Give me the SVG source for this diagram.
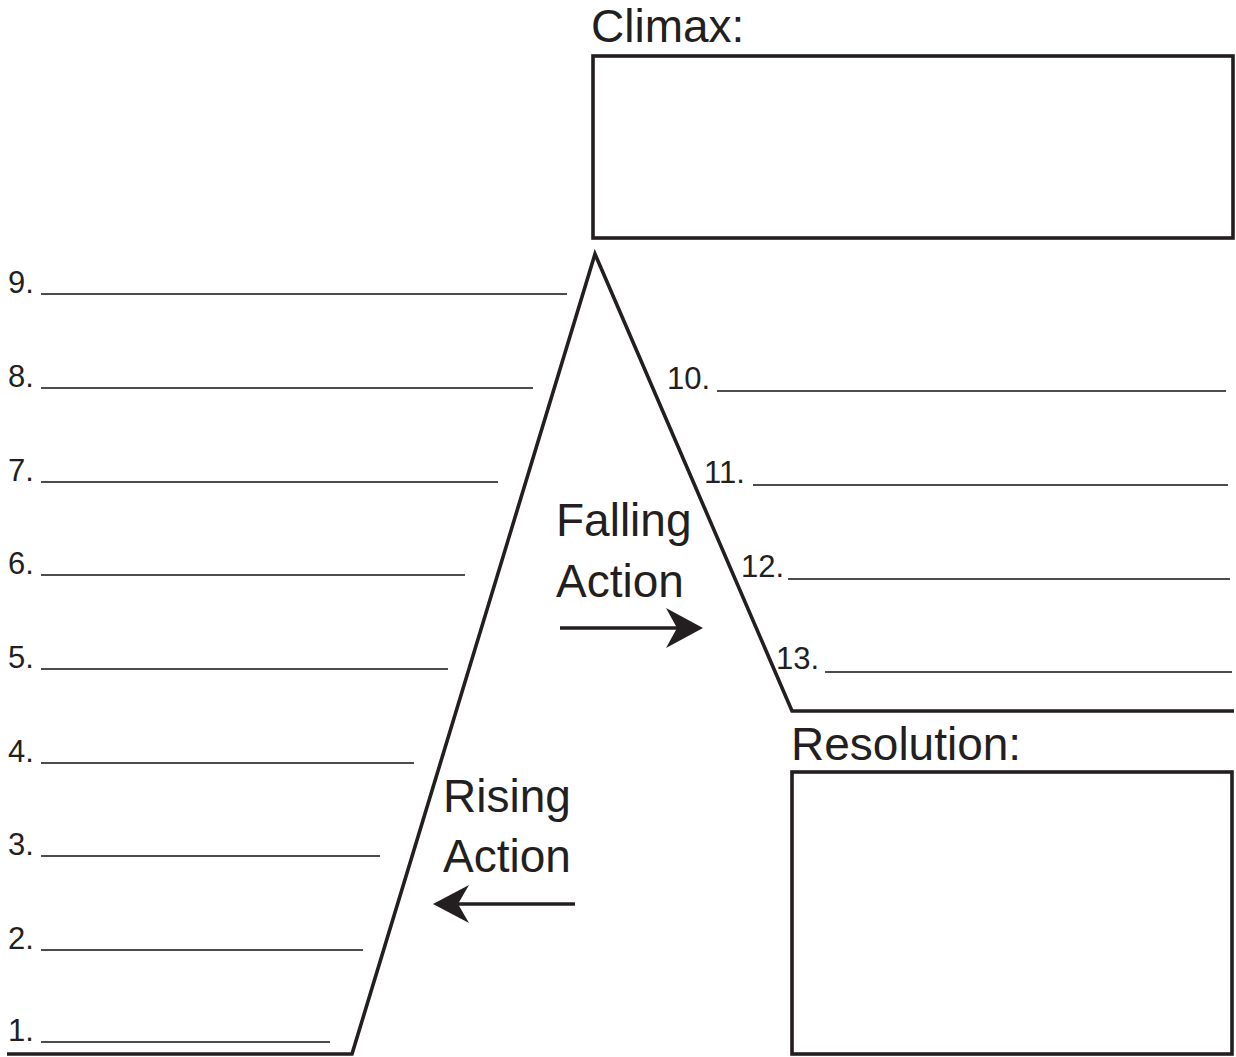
<svg xmlns="http://www.w3.org/2000/svg" width="1236" height="1057" viewBox="0 0 1236 1057">
<style>
.bold{fill:none;stroke:#231f20;stroke-width:3.6;stroke-linejoin:miter;stroke-miterlimit:20}
.blank{stroke:#4d4d4f;stroke-width:2}
.num{font-family:"Liberation Sans",Arial,sans-serif;font-size:31px;fill:#231f20}
.big{font-family:"Liberation Sans",Arial,sans-serif;font-size:46px;fill:#231f20}
.head{fill:#231f20}
</style>
<rect width="1236" height="1057" fill="#fff"/>
<g id="climax">
<text class="big" x="591" y="42">Climax:</text>
<rect class="bold" x="593" y="56" width="640" height="182"/>
</g>
<g id="resolution">
<text class="big" x="791" y="760">Resolution:</text>
<rect class="bold" x="792" y="772" width="440" height="282"/>
</g>
<g id="mountain">
<polyline class="bold" points="7,1054 352,1054 595,254 792,711 1234,711"/>
</g>
<g id="rising-label">
<text class="big" x="443" y="812">Rising</text>
<text class="big" x="443" y="872">Action</text>
</g>
<g id="falling-label">
<text class="big" x="556" y="536">Falling</text>
<text class="big" x="556" y="597">Action</text>
</g>
<g id="connectors">
<line class="bold" x1="560" y1="628" x2="680" y2="628"/>
<path class="head" d="M703,628 L666,608 L677,628 L666,648 Z"/>
<line class="bold" x1="575" y1="904" x2="455" y2="904"/>
<path class="head" d="M433,904 L469,885 L458,904 L469,923 Z"/>
</g>
<g id="left-items">
<text class="num" x="8" y="293">9.</text><line class="blank" x1="41" y1="294" x2="567" y2="294"/>
<text class="num" x="8" y="387">8.</text><line class="blank" x1="41" y1="388" x2="533" y2="388"/>
<text class="num" x="8" y="481">7.</text><line class="blank" x1="41" y1="482" x2="498" y2="482"/>
<text class="num" x="8" y="574">6.</text><line class="blank" x1="41" y1="575" x2="465" y2="575"/>
<text class="num" x="8" y="668">5.</text><line class="blank" x1="41" y1="669" x2="448" y2="669"/>
<text class="num" x="8" y="762">4.</text><line class="blank" x1="41" y1="763" x2="414" y2="763"/>
<text class="num" x="8" y="855">3.</text><line class="blank" x1="41" y1="856" x2="380" y2="856"/>
<text class="num" x="8" y="949">2.</text><line class="blank" x1="41" y1="950" x2="363" y2="950"/>
<text class="num" x="8" y="1041">1.</text><line class="blank" x1="41" y1="1042" x2="330" y2="1042"/>
</g>
<g id="right-items">
<text class="num" x="667" y="389">10.</text><line class="blank" x1="717" y1="391" x2="1226" y2="391"/>
<text class="num" x="704" y="483">11.</text><line class="blank" x1="753" y1="485" x2="1228" y2="485"/>
<text class="num" x="741" y="577">12.</text><line class="blank" x1="788" y1="579" x2="1230" y2="579"/>
<text class="num" x="776" y="669">13.</text><line class="blank" x1="825" y1="672" x2="1232" y2="672"/>
</g>
</svg>
